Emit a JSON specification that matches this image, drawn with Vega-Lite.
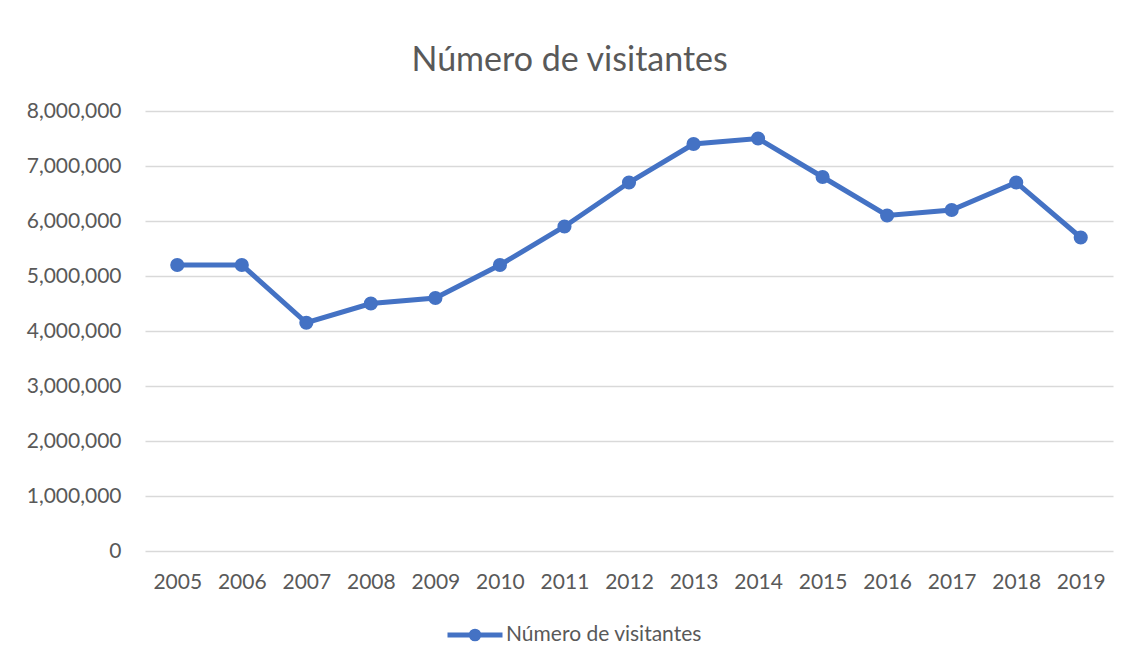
{
  "$schema": "https://vega.github.io/schema/vega-lite/v6.json",
  "width": 968,
  "height": 440,
  "autosize": "none",
  "padding": {"left": 145, "top": 111, "right": 17, "bottom": 115},
  "background": "white",
  "title": {
    "text": "Número de visitantes",
    "font": "Lato",
    "fontSize": 34,
    "fontWeight": "normal",
    "color": "#595959",
    "anchor": "middle",
    "offset": 22,
    "frame": "bounds"
  },
  "data": {
    "values": [
      {"year": "2005", "visitors": 5200000, "serie": "Número de visitantes"},
      {"year": "2006", "visitors": 5200000, "serie": "Número de visitantes"},
      {"year": "2007", "visitors": 4150000, "serie": "Número de visitantes"},
      {"year": "2008", "visitors": 4500000, "serie": "Número de visitantes"},
      {"year": "2009", "visitors": 4600000, "serie": "Número de visitantes"},
      {"year": "2010", "visitors": 5200000, "serie": "Número de visitantes"},
      {"year": "2011", "visitors": 5900000, "serie": "Número de visitantes"},
      {"year": "2012", "visitors": 6700000, "serie": "Número de visitantes"},
      {"year": "2013", "visitors": 7400000, "serie": "Número de visitantes"},
      {"year": "2014", "visitors": 7500000, "serie": "Número de visitantes"},
      {"year": "2015", "visitors": 6800000, "serie": "Número de visitantes"},
      {"year": "2016", "visitors": 6100000, "serie": "Número de visitantes"},
      {"year": "2017", "visitors": 6200000, "serie": "Número de visitantes"},
      {"year": "2018", "visitors": 6700000, "serie": "Número de visitantes"},
      {"year": "2019", "visitors": 5700000, "serie": "Número de visitantes"}
    ]
  },
  "mark": {"type": "line", "strokeWidth": 5, "point": {"filled": true, "size": 200}},
  "encoding": {
    "x": {
      "field": "year",
      "type": "ordinal",
      "scale": {"paddingInner": 0, "paddingOuter": 0.5},
      "axis": {
        "title": null,
        "labelAngle": 0,
        "ticks": false,
        "domain": false,
        "grid": false,
        "labelFont": "Lato",
        "labelFontSize": 21,
        "labelColor": "#595959",
        "labelPadding": 20
      }
    },
    "y": {
      "field": "visitors",
      "type": "quantitative",
      "scale": {"domain": [0, 8000000], "nice": false},
      "axis": {
        "title": null,
        "values": [0, 1000000, 2000000, 3000000, 4000000, 5000000, 6000000, 7000000, 8000000],
        "format": ",d",
        "ticks": false,
        "domain": false,
        "gridColor": "#D9D9D9",
        "gridWidth": 1.5,
        "labelFont": "Lato",
        "labelFontSize": 21,
        "labelColor": "#595959",
        "labelPadding": 24
      }
    },
    "color": {
      "field": "serie",
      "type": "nominal",
      "scale": {"range": ["#4472C4"]},
      "legend": {
        "title": null,
        "orient": "none",
        "legendX": 300,
        "legendY": 494,
        "symbolType": "M-1,0H1M-0.14,0A0.14,0.14,0,1,1,0.14,0A0.14,0.14,0,1,1,-0.14,0",
        "symbolSize": 3025,
        "symbolStrokeWidth": 5,
        "symbolFillColor": "#4472C4",
        "symbolOpacity": 1,
        "labelFont": "Lato",
        "labelFontSize": 21,
        "labelColor": "#595959",
        "labelOffset": 1,
        "labelLimit": 500
      }
    }
  },
  "config": {"view": {"stroke": null}}
}
